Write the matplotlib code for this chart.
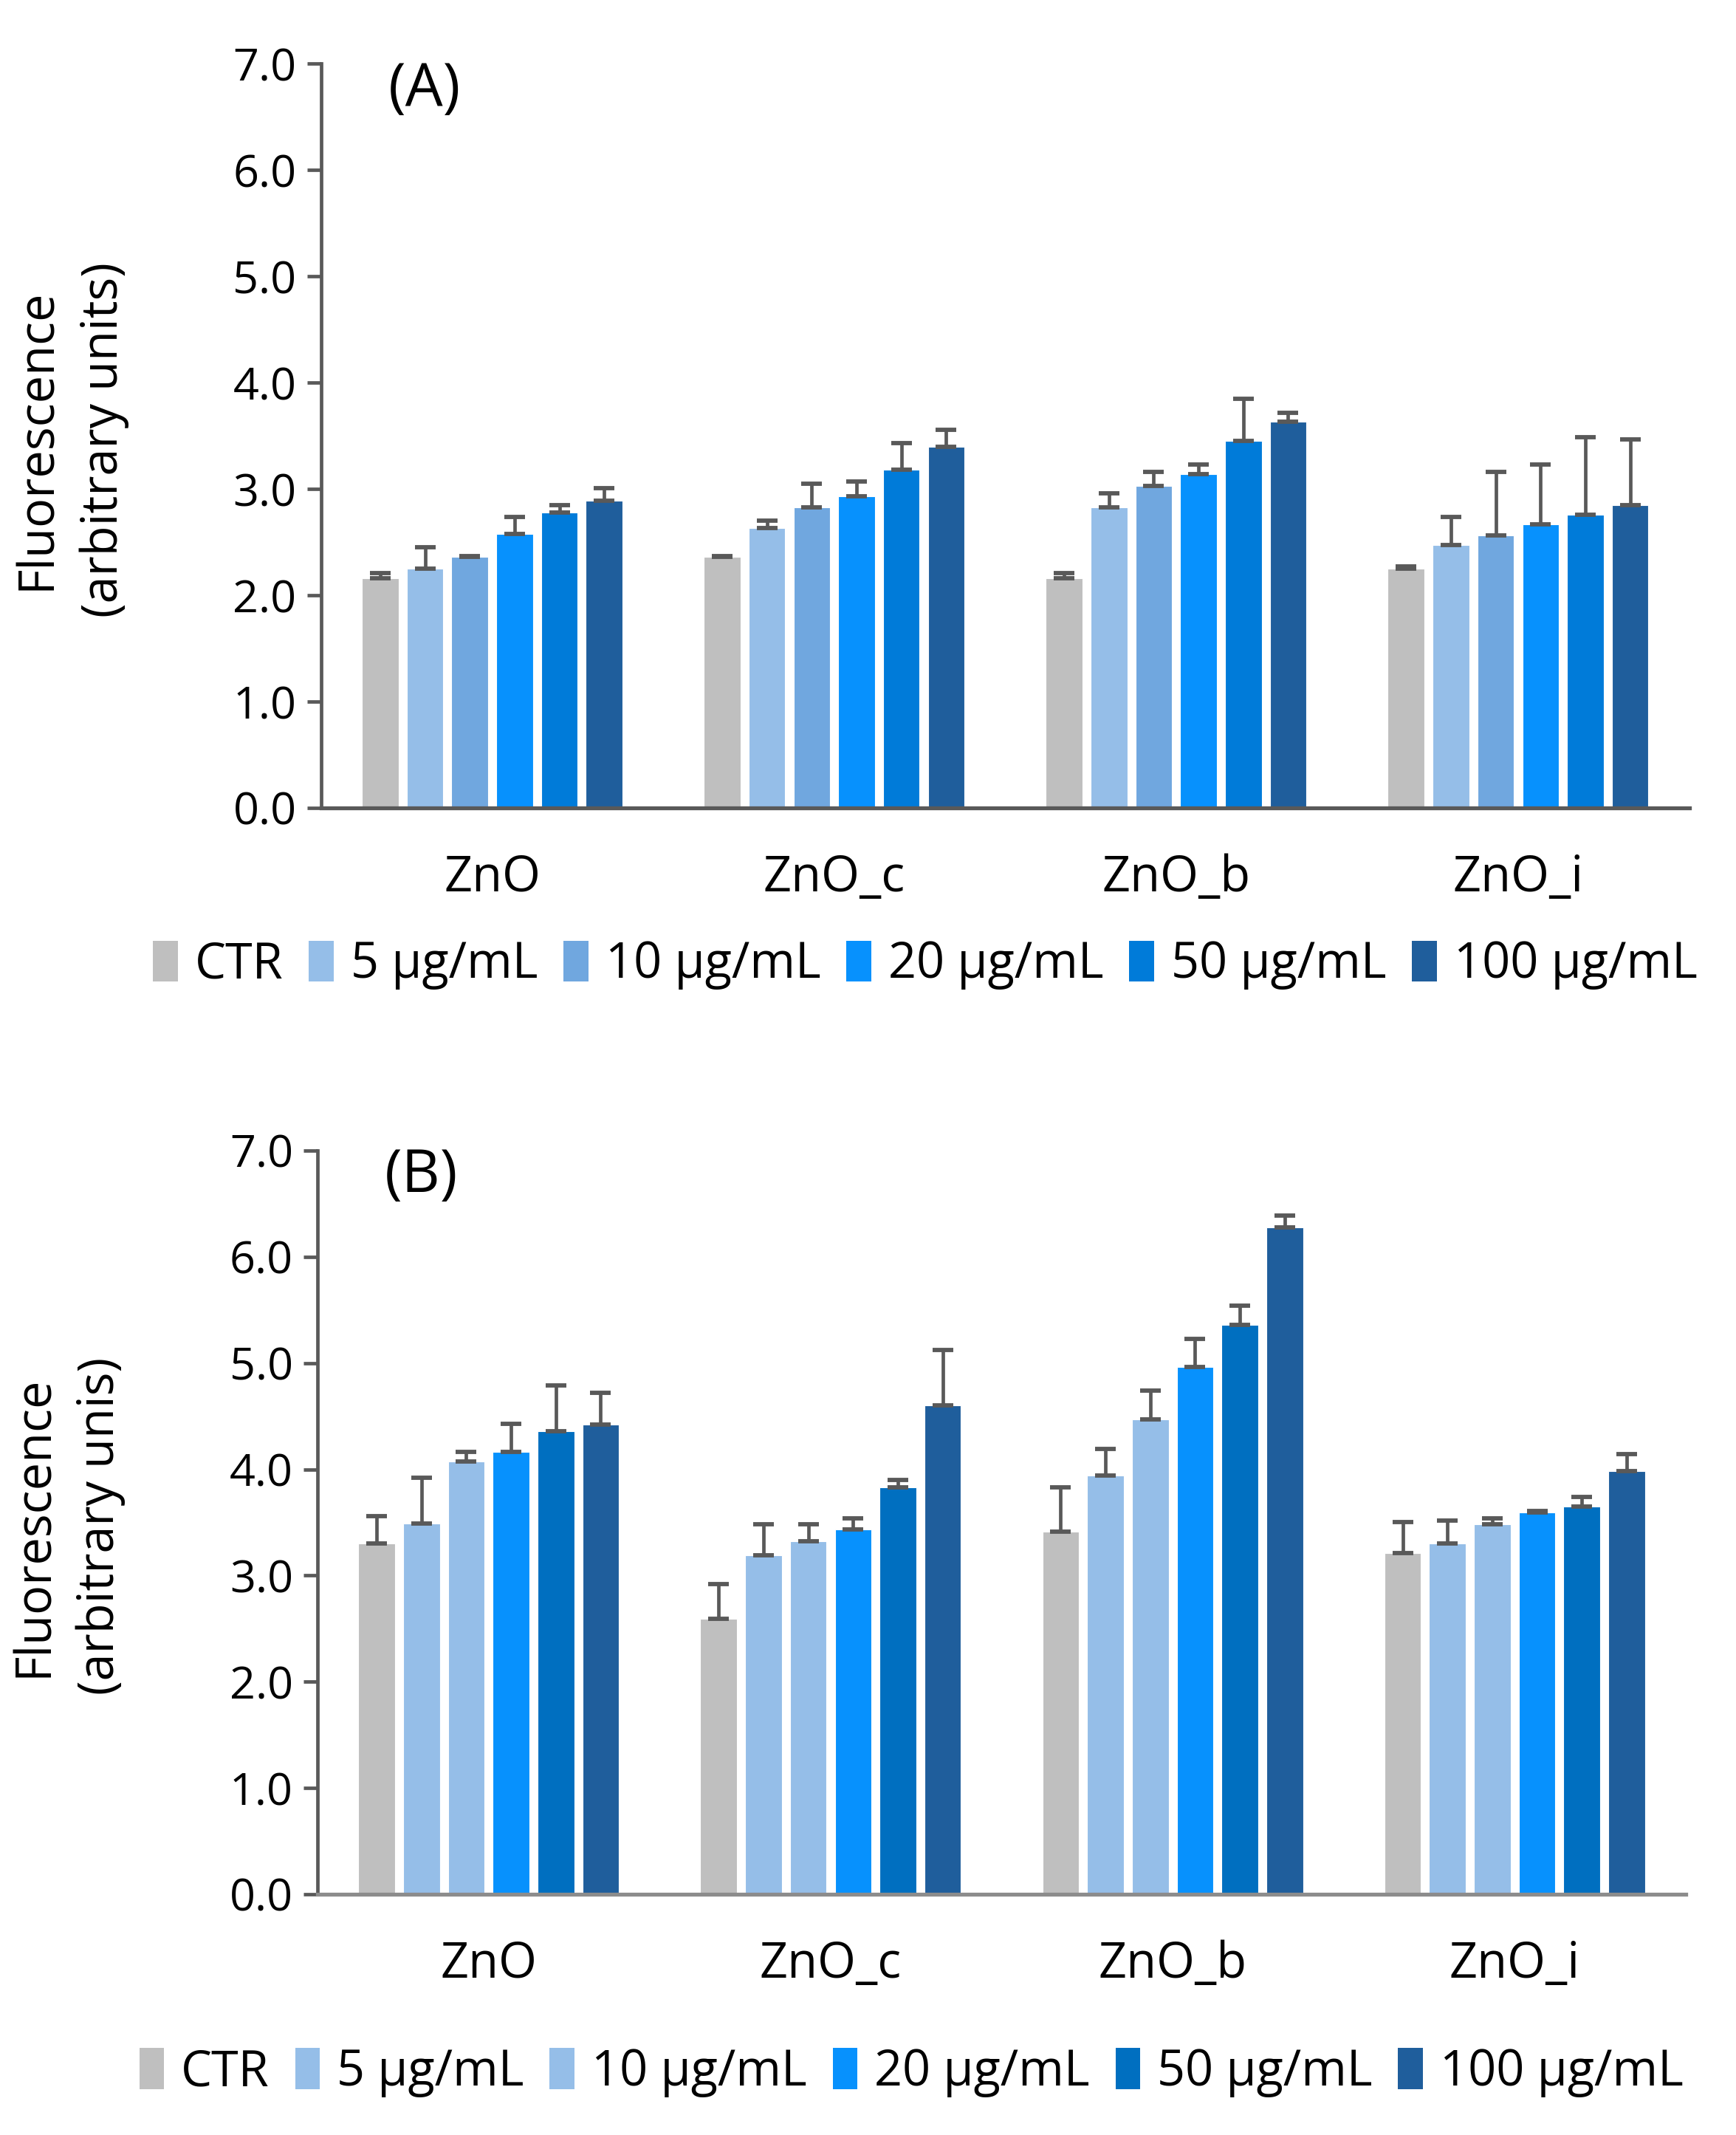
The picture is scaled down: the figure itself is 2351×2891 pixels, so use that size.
import numpy as np
import matplotlib.pyplot as plt
from matplotlib.patches import Patch

plt.rcParams['font.family'] = ['Open Sans', 'DejaVu Sans']

groups = ['ZnO', 'ZnO_c', 'ZnO_b', 'ZnO_i']
doses = ['CTR', '5 μg/mL', '10 μg/mL', '20 μg/mL', '50 μg/mL', '100 μg/mL']

# panel A: rows = dose, cols = group
valsA = [
    [2.16, 2.36, 2.16, 2.25],
    [2.25, 2.63, 2.83, 2.47],
    [2.36, 2.83, 3.03, 2.56],
    [2.58, 2.93, 3.14, 2.67],
    [2.78, 3.18, 3.45, 2.76],
    [2.89, 3.40, 3.63, 2.85],
]
errA = [
    [0.05, 0.01, 0.05, 0.02],
    [0.20, 0.07, 0.13, 0.27],
    [0.01, 0.22, 0.13, 0.60],
    [0.16, 0.14, 0.09, 0.56],
    [0.07, 0.25, 0.40, 0.73],
    [0.12, 0.16, 0.09, 0.62],
]

# panel B
valsB = [
    [3.30, 2.59, 3.41, 3.21],
    [3.49, 3.19, 3.94, 3.30],
    [4.07, 3.32, 4.47, 3.48],
    [4.16, 3.43, 4.96, 3.59],
    [4.36, 3.83, 5.36, 3.65],
    [4.42, 4.60, 6.28, 3.98],
]
errB = [
    [0.26, 0.33, 0.42, 0.29],
    [0.43, 0.29, 0.25, 0.22],
    [0.09, 0.16, 0.27, 0.06],
    [0.27, 0.11, 0.27, 0.02],
    [0.43, 0.07, 0.18, 0.09],
    [0.30, 0.52, 0.11, 0.16],
]

colorsA = ['#bfbfbf', '#95bee8', '#70a7df', '#0791fd', '#007bd9', '#1f5e9c']
colorsB = ['#bfbfbf', '#95bee8', '#95bee8', '#0791fd', '#006fc0', '#1f5e9c']

FS = 48
FS_Y = 44
axis_grey = '#595959'


def draw_panel(ax, vals, errs, colors, label, ylab, xcolor):
    x = np.arange(len(groups))
    slot = 0.131
    for i in range(len(doses)):
        pos = x + (i - 2.5) * slot
        ax.bar(pos, vals[i], width=0.107, color=colors[i], edgecolor='white',
               linewidth=0.8, zorder=2)
        ax.errorbar(pos, vals[i], yerr=[np.zeros(len(groups)), errs[i]], fmt='none',
                    ecolor=axis_grey, elinewidth=3.4, capsize=10, capthick=4.2, zorder=3)
    ax.set_xlim(-0.5, 3.5)
    ax.set_ylim(0, 7)
    ax.set_yticks(np.arange(0, 7.01, 1.0))
    ax.set_yticklabels(['%.1f' % v for v in np.arange(0, 7.01, 1.0)], fontsize=FS_Y)
    ax.set_xticks(x)
    ax.set_xticklabels(groups, fontsize=FS)
    ax.tick_params(axis='y', length=14, width=3.4, color=axis_grey, pad=10)
    ax.tick_params(axis='x', length=0, pad=44)
    for s in ['top', 'right']:
        ax.spines[s].set_visible(False)
    ax.spines['left'].set_color(axis_grey)
    ax.spines['left'].set_linewidth(3.4)
    ax.spines['bottom'].set_color(xcolor)
    ax.spines['bottom'].set_linewidth(3.8)
    ax.text(0.049, 0.965, label, transform=ax.transAxes, fontsize=58,
            ha='left', va='center')
    ax.text(-0.183, 0.495, ylab, transform=ax.transAxes, fontsize=FS, rotation=90,
            ha='center', va='center', multialignment='center', linespacing=1.45)


fig = plt.figure(figsize=(23.51, 28.91), dpi=100)
axA = fig.add_axes([0.185, 0.6216, 0.788, 0.3485])
axB = fig.add_axes([0.183, 0.1128, 0.788, 0.3483])

draw_panel(axA, valsA, errA, colorsA, '(A)', 'Fluorescence\n(arbitrary units)', axis_grey)
draw_panel(axB, valsB, errB, colorsB, '(B)', 'Fluorescence\n(arbitrary unis)', '#8c8c8c')

for cols, ypos, xpos in [(colorsA, 0.548, 0.533), (colorsB, 0.0293, 0.525)]:
    handles = [Patch(facecolor=c, edgecolor='none') for c in cols]
    fig.legend(handles, doses, loc='center', bbox_to_anchor=(xpos, ypos), ncol=6,
               frameon=False, fontsize=FS, handlelength=0.5, handleheight=0.9,
               handletextpad=0.35, columnspacing=0.52, borderaxespad=0)

fig.savefig('out.png', dpi=100)
